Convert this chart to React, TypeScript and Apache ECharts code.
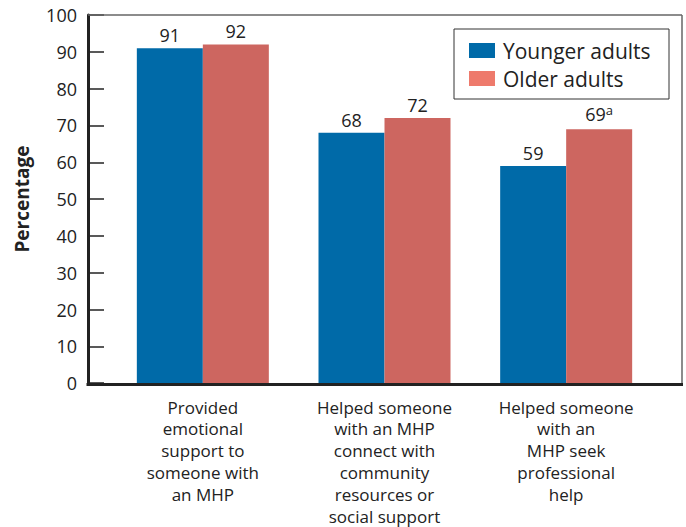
import React, { useEffect, useRef } from "react";
import * as echarts from "echarts";

const categories = [
  "Provided\nemotional\nsupport to\nsomeone with\nan MHP",
  "Helped someone\nwith an MHP\nconnect with\ncommunity\nresources or\nsocial support",
  "Helped someone\nwith an\nMHP seek\nprofessional\nhelp",
];
const younger = [91, 68, 59];
const older = [92, 72, 69];
const olderNotes = ["", "", "a"];
const yTicks = [0, 10, 20, 30, 40, 50, 60, 70, 80, 90, 100];

const FONT = "Open Sans";
const BLUE = "#006aa8";
const RED = "#cd6660";
const LEGEND_RED = "#ee7a6c";

export default function App() {
  const ref = useRef<HTMLDivElement>(null);
  useEffect(() => {
    if (!ref.current) return;
    const chart = echarts.init(ref.current, null, { renderer: "svg" });
    const option = {
      animation: false,
      textStyle: { fontFamily: FONT },
      grid: { left: 112, right: 29, top: 15, bottom: 143 },
      legend: {
        orient: "vertical",
        left: 469,
        top: 40,
        padding: 0,
        itemWidth: 26,
        itemHeight: 15,
        itemGap: 7,
        icon: "rect",
        textStyle: { fontSize: 21, lineHeight: 15, color: "#222", fontFamily: FONT, padding: [0, 0, 0, 3] },
        data: [
          { name: "Younger adults", itemStyle: { color: BLUE } },
          { name: "Older adults", itemStyle: { color: LEGEND_RED } },
        ],
      },
      graphic: [
        { type: "rect", shape: { x: 454, y: 29, width: 215, height: 70 }, style: { fill: "none", stroke: "#333", lineWidth: 1 }, z: 10 },
        { type: "line", shape: { x1: 88, y1: 15, x2: 682, y2: 15 }, style: { stroke: "#666", lineWidth: 1.5 }, z: 10 },
        { type: "line", shape: { x1: 682, y1: 15, x2: 682, y2: 385 }, style: { stroke: "#666", lineWidth: 1.5 }, z: 10 },
        { type: "line", shape: { x1: 86.5, y1: 384.5, x2: 683, y2: 384.5 }, style: { stroke: "#222", lineWidth: 3 }, z: 10 },
      ],
      xAxis: {
        type: "category",
        data: categories,
        axisLine: { show: false },
        axisTick: { show: false },
        axisLabel: { fontSize: 17, lineHeight: 21.8, color: "#222", margin: 13, fontFamily: FONT, interval: 0 },
      },
      yAxis: {
        type: "value",
        min: 0,
        max: 100,
        interval: 10,
        offset: 24,
        name: "Percentage",
        nameLocation: "middle",
        nameGap: 57,
        nameTextStyle: { fontSize: 19, fontWeight: "bold", color: "#222", fontFamily: FONT },
        axisLine: { show: true, lineStyle: { color: "#222", width: 3 } },
        axisTick: { show: true, inside: true, length: 16, lineStyle: { color: "#222", width: 1.5 } },
        axisLabel: {
          fontSize: 18,
          color: "#222",
          margin: 11,
          fontFamily: FONT,
          formatter: (v: number) => (yTicks.includes(v) ? String(v) : ""),
        },
        splitLine: { show: false },
      },
      series: [
        {
          name: "Younger adults",
          type: "bar",
          data: younger,
          barWidth: 66,
          barGap: "0%",
          itemStyle: { color: BLUE },
          label: { show: true, position: "top", distance: 4, fontSize: 18, color: "#222", fontFamily: FONT },
        },
        {
          name: "Older adults",
          type: "bar",
          data: older.map((v, i) => ({
            value: v,
            label: {
              formatter: olderNotes[i] ? `{v|${v}}{s|${olderNotes[i]}}` : `{v|${v}}`,
            },
          })),
          barWidth: 66,
          barGap: "0%",
          itemStyle: { color: RED },
          label: {
            show: true,
            position: "top",
            distance: 4,
            fontSize: 18,
            color: "#222",
            fontFamily: FONT,
            rich: {
              v: { fontSize: 18, color: "#222", fontFamily: FONT },
              s: { fontSize: 13, color: "#222", fontFamily: FONT, verticalAlign: "top", padding: [0, 0, 9, 0] },
            },
          },
        },
      ],
    };
    chart.setOption(option as any);
    return () => chart.dispose();
  }, []);
  return <div ref={ref} style={{ width: 686, height: 527, position: "absolute", left: 0, top: 0 }} />;
}
